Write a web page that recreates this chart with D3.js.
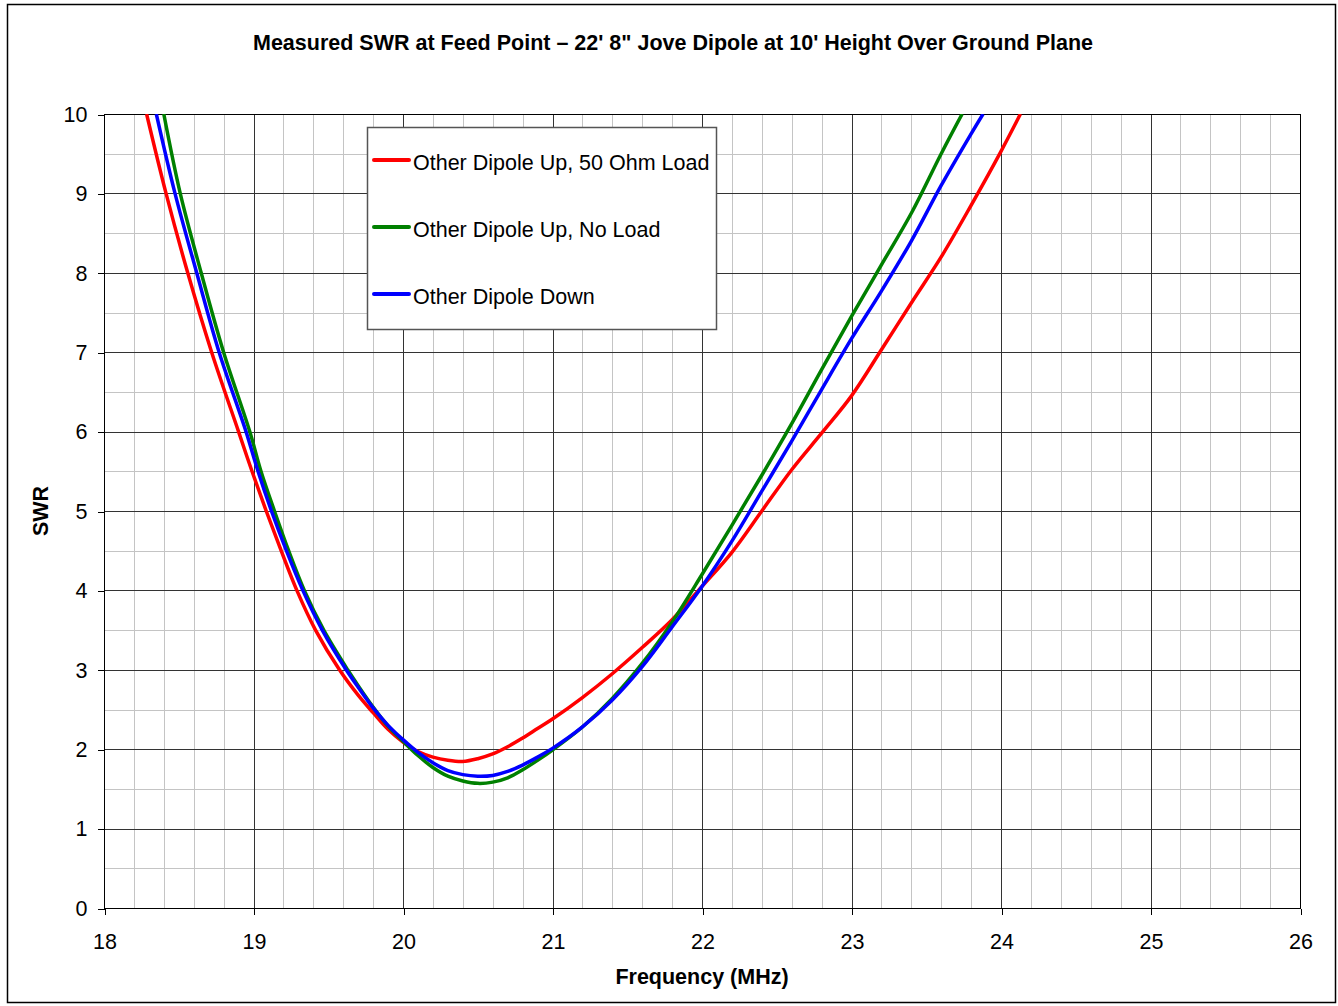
<!DOCTYPE html>
<html>
<head>
<meta charset="utf-8">
<script src="https://cdn.jsdelivr.net/npm/d3@7"></script>
<style>
  body { margin: 0; background: #fff; }
  text { font-family: Arial, "Liberation Sans", sans-serif; }
</style>
</head>
<body>
<script>
var width = 1338,
    height = 1006;

var title = "Measured SWR at Feed Point \u2013 22' 8\" Jove Dipole at 10' Height Over Ground Plane";
var xTicks = [18, 19, 20, 21, 22, 23, 24, 25, 26];
var yTicks = [0, 1, 2, 3, 4, 5, 6, 7, 8, 9, 10];

// [frequency MHz, SWR]
var upLoad = [
    [18.285,10],[18.415,9],[18.56,8],[18.72,7],[18.90,6],[18.99,5.5],[19.085,5],
    [19.185,4.5],[19.29,4],[19.415,3.5],[19.575,3],[19.7,2.68],[19.8,2.46],[19.9,2.25],
    [20.0,2.09],[20.1,1.97],[20.2,1.9],[20.3,1.86],[20.4,1.845],[20.5,1.88],[20.6,1.94],
    [20.7,2.03],[20.8,2.14],[20.9,2.26],[21.0,2.38],[21.2,2.65],[21.4,2.95],[21.6,3.28],
    [21.8,3.63],[22.0,4.05],[22.2,4.48],[22.4,5.0],[22.6,5.52],[22.8,5.98],[23.0,6.45],
    [23.2,7.03],[23.4,7.62],[23.6,8.2],[23.8,8.85],[24.0,9.53],[24.13,10]
];
var upNoLoad = [
    [18.40,10],[18.51,9],[18.65,8],[18.80,7],[18.975,6],[19.05,5.5],[19.14,5],
    [19.235,4.5],[19.34,4],[19.47,3.5],[19.63,3],[19.7,2.8],[19.8,2.53],[19.9,2.29],
    [20.0,2.1],[20.1,1.92],[20.2,1.77],[20.3,1.66],[20.4,1.6],[20.5,1.57],[20.6,1.585],
    [20.7,1.64],[20.8,1.74],[20.9,1.86],[21.0,1.99],[21.2,2.28],[21.4,2.64],[21.6,3.08],
    [21.8,3.6],[22.0,4.2],[22.2,4.82],[22.4,5.45],[22.6,6.1],[22.8,6.78],[23.0,7.45],
    [23.2,8.1],[23.4,8.75],[23.6,9.5],[23.74,10]
];
var down = [
    [18.35,10],[18.475,9],[18.62,8],[18.77,7],[18.95,6],[19.03,5.5],[19.12,5],
    [19.22,4.5],[19.33,4],[19.46,3.5],[19.62,3],[19.7,2.78],[19.8,2.52],[19.9,2.3],
    [20.0,2.12],[20.1,1.96],[20.2,1.83],[20.3,1.73],[20.4,1.68],[20.5,1.66],[20.6,1.67],
    [20.7,1.72],[20.8,1.8],[20.9,1.9],[21.0,2.01],[21.2,2.28],[21.4,2.62],[21.6,3.04],
    [21.8,3.54],[22.0,4.05],[22.2,4.62],[22.4,5.25],[22.6,5.88],[22.8,6.53],[23.0,7.17],
    [23.2,7.77],[23.4,8.4],[23.6,9.1],[23.8,9.75],[23.88,10]
];

var seriesNames = ["Other Dipole Up, 50 Ohm Load", "Other Dipole Up, No Load", "Other Dipole Down"];
var seriesColors = ["#ff0000", "#008000", "#0000ff"];
var seriesData = [upLoad, upNoLoad, down];

var plot = {left: 104, top: 114, right: 1300, bottom: 908};

var svg = d3.select("body").append("svg")
    .attr("width", width)
    .attr("height", height);

svg.append("rect")
    .attr("x", 7.5).attr("y", 4.5)
    .attr("width", 1328).attr("height", 998)
    .attr("fill", "#fff")
    .attr("stroke", "#000")
    .attr("stroke-width", 1.5);

svg.append("text")
    .attr("x", 673)
    .attr("y", 50)
    .attr("text-anchor", "middle")
    .style("font-size", "21.5px")
    .style("font-weight", "bold")
    .text(title);

var x = d3.scaleLinear().domain([18, 26]).range([plot.left, plot.right]);
var y = d3.scaleLinear().domain([0, 10]).range([plot.bottom, plot.top]);

var grid = svg.append("g").attr("shape-rendering", "crispEdges");

// minor grid
grid.selectAll(".vminor")
    .data(d3.range(18, 26.001, 0.2))
    .enter().append("line")
    .attr("x1", function (d) { return Math.round(x(d)) + 0.5; })
    .attr("x2", function (d) { return Math.round(x(d)) + 0.5; })
    .attr("y1", plot.top).attr("y2", plot.bottom)
    .attr("stroke", "#c4c4c4");

grid.selectAll(".hminor")
    .data(d3.range(0, 10.001, 0.5))
    .enter().append("line")
    .attr("y1", function (d) { return Math.round(y(d)) + 0.5; })
    .attr("y2", function (d) { return Math.round(y(d)) + 0.5; })
    .attr("x1", plot.left).attr("x2", plot.right)
    .attr("stroke", "#c4c4c4");

// major grid
grid.selectAll(".vmajor")
    .data(xTicks)
    .enter().append("line")
    .attr("x1", function (d) { return Math.round(x(d)) + 0.5; })
    .attr("x2", function (d) { return Math.round(x(d)) + 0.5; })
    .attr("y1", plot.top).attr("y2", plot.bottom)
    .attr("stroke", "#333");

grid.selectAll(".hmajor")
    .data(yTicks)
    .enter().append("line")
    .attr("y1", function (d) { return Math.round(y(d)) + 0.5; })
    .attr("y2", function (d) { return Math.round(y(d)) + 0.5; })
    .attr("x1", plot.left).attr("x2", plot.right)
    .attr("stroke", "#333");

grid.append("rect")
    .attr("x", plot.left + 0.5).attr("y", plot.top + 0.5)
    .attr("width", plot.right - plot.left).attr("height", plot.bottom - plot.top)
    .attr("fill", "none")
    .attr("stroke", "#000");

// axes
var xAxis = svg.append("g")
    .attr("transform", "translate(0.5," + (plot.bottom + 0.5) + ")")
    .call(d3.axisBottom(x).tickValues(xTicks).tickSize(6).tickPadding(19).tickFormat(d3.format("d")));
var yAxis = svg.append("g")
    .attr("transform", "translate(" + (plot.left + 0.5) + ",0.5)")
    .call(d3.axisLeft(y).tickValues(yTicks).tickSize(7).tickPadding(10).tickFormat(d3.format("d")));

[xAxis, yAxis].forEach(function (a) {
    a.select(".domain").remove();
    a.selectAll("line").attr("stroke", "#000").attr("shape-rendering", "crispEdges");
    a.selectAll("text")
        .style("font-size", "21.5px")
        .style("font-family", "Arial, 'Liberation Sans', sans-serif")
        .attr("fill", "#000");
});

svg.append("text")
    .attr("x", 702)
    .attr("y", 984)
    .attr("text-anchor", "middle")
    .style("font-size", "21.5px")
    .style("font-weight", "bold")
    .text("Frequency (MHz)");

svg.append("text")
    .attr("transform", "translate(48," + ((plot.top + plot.bottom) / 2) + ") rotate(-90)")
    .attr("text-anchor", "middle")
    .style("font-size", "21.5px")
    .style("font-weight", "bold")
    .text("SWR");

// curves
svg.append("clipPath")
    .attr("id", "plotClip")
    .append("rect")
    .attr("x", plot.left).attr("y", plot.top)
    .attr("width", plot.right - plot.left).attr("height", plot.bottom - plot.top);

var line = d3.line()
    .x(function (d) { return x(d[0]); })
    .y(function (d) { return y(d[1]); })
    .curve(d3.curveCatmullRom.alpha(0.5));

var curves = svg.append("g").attr("clip-path", "url(#plotClip)");
for (var i = 0; i < seriesData.length; i++) {
    curves.append("path")
        .attr("d", line(seriesData[i]))
        .attr("fill", "none")
        .attr("stroke", seriesColors[i])
        .attr("stroke-width", 3.5)
        .attr("stroke-linejoin", "round");
}

// legend
var legend = svg.append("g").attr("transform", "translate(367,127)");
legend.append("rect")
    .attr("x", 0.5).attr("y", 0.5)
    .attr("width", 349).attr("height", 202)
    .attr("fill", "#fff")
    .attr("stroke", "#555")
    .attr("stroke-width", 1.5);

for (var j = 0; j < seriesNames.length; j++) {
    var ly = 33 + j * 67;
    legend.append("line")
        .attr("x1", 7).attr("x2", 42)
        .attr("y1", ly).attr("y2", ly)
        .attr("stroke", seriesColors[j])
        .attr("stroke-width", 4)
        .attr("stroke-linecap", "round");
    legend.append("text")
        .attr("x", 46)
        .attr("y", ly + 9.5)
        .style("font-size", "21.5px")
        .text(seriesNames[j]);
}
</script>
</body>
</html>
